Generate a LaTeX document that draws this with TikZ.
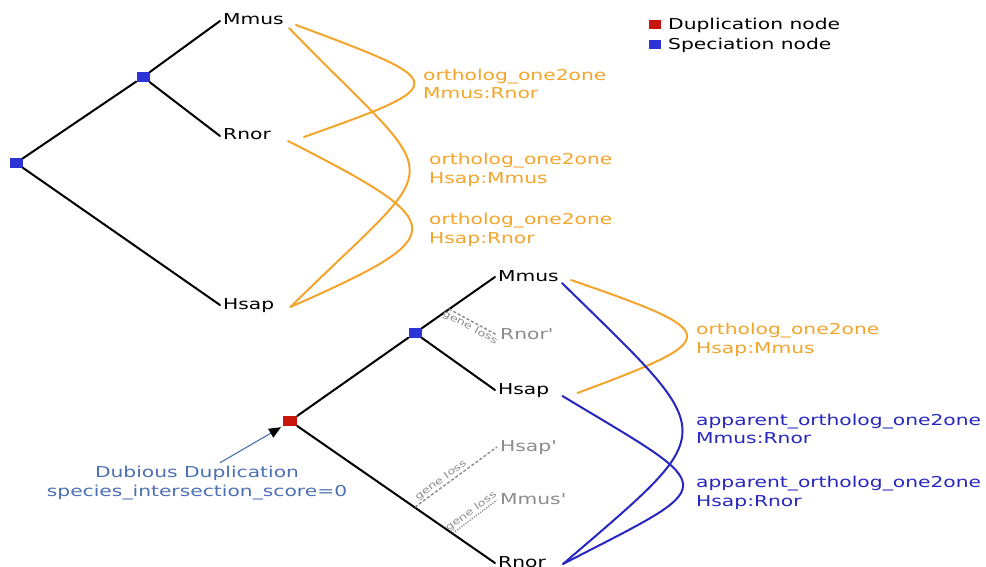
\documentclass[tikz,border=0pt]{standalone}
\usepackage{fontspec}
\setmainfont{DejaVu Sans}[FakeStretch=1.35]
\usetikzlibrary{arrows.meta}
\definecolor{orthoorange}{RGB}{243,164,42}
\definecolor{apparentblue}{RGB}{38,38,192}
\definecolor{specblue}{RGB}{44,52,212}
\definecolor{dupred}{RGB}{200,22,12}
\definecolor{dubiousblue}{RGB}{76,112,180}
\definecolor{lossgray}{RGB}{140,140,140}
\begin{document}
\begin{tikzpicture}[x=1pt, y=-1pt, font=\fontsize{15}{18.5}\selectfont, line join=round, line cap=round, >=stealth,
	branch/.style={line width=2pt, black},
	spec/.style={fill=specblue, minimum width=13pt, minimum height=10pt, inner sep=0pt},
	dup/.style={fill=dupred, minimum width=14pt, minimum height=10pt, inner sep=0pt},
	leaf/.style={anchor=west, inner sep=3pt, text height=11pt, text depth=3pt},
	lost/.style={leaf, text=lossgray},
	ortho/.style={line width=2pt, orthoorange},
	apparent/.style={line width=2pt, apparentblue},
	rel/.style={anchor=west, align=left, inner sep=0pt},
	lossline/.style={lossgray, line width=1.4pt, line cap=butt, dash pattern=on 3pt off 2pt},
	losstext/.style={font=\fontsize{9.5}{11}\selectfont, text=lossgray, sloped, inner sep=1pt}]
	\useasboundingbox (0,0) rectangle (986,567);
	% species tree
	\node[spec] (r0) at (16,163) {};
	\node[spec] (s1) at (143,77) {};
	\node[leaf] (mmusA) at (220,21) {Mmus};
	\node[leaf] (rnorA) at (220,136) {Rnor};
	\node[leaf] (hsapA) at (220,305) {Hsap};
	\draw[branch] (r0) -- (s1) -- (mmusA.west) (s1) -- (rnorA.west) (r0) -- (hsapA.west);
	\draw[ortho] ([shift={(9,4)}]mmusA.east) .. controls +(156,58) and +(149,-53) .. ([shift={(30,1)}]rnorA.east);
	\draw[ortho] ([shift={(2,7)}]mmusA.east) .. controls +(160,165) and +(160,-158) .. ([shift={(13,2)}]hsapA.east);
	\draw[ortho] ([shift={(14,5)}]rnorA.east) .. controls +(165,84) and +(163,-72) .. ([shift={(13,2)}]hsapA.east);
	\node[rel, text=orthoorange] (lab1) at (423,84) {ortholog\_one2one\\Mmus:Rnor};
	\node[rel, text=orthoorange] (lab2) at (429,170) {ortholog\_one2one\\Hsap:Mmus};
	\node[rel, text=orthoorange] (lab3) at (429,230) {ortholog\_one2one\\Hsap:Rnor};
	% legend
	\foreach \col/\txt/\y in {dupred/Duplication node/25, specblue/Speciation node/45}{
		\node[fill=\col, minimum width=12pt, minimum height=9pt, inner sep=0pt] (key\y) at (655,\y) {};
		\node[anchor=west, inner sep=0pt] (legend\y) at (668,\y) {\txt};
	}
	% gene tree
	\node[dup] (d1) at (290,421) {};
	\node[spec] (s2) at (415,333) {};
	\node[leaf] (mmusB) at (495,277) {Mmus};
	\node[leaf] (hsapB) at (495,390) {Hsap};
	\node[leaf] (rnorB) at (495,563) {Rnor};
	\node[lost] (rnorP) at (497,335) {Rnor\textquotesingle};
	\node[lost] (hsapP) at (497,447) {Hsap\textquotesingle};
	\node[lost] (mmusP) at (497,500) {Mmus\textquotesingle};
	\draw[branch] (d1) -- (s2) -- (mmusB.west) (s2) -- (hsapB.west) (d1) -- (rnorB.west);
	\coordinate (gl1) at (449,309);
	\coordinate (gl2) at (415,507);
	\coordinate (gl3) at (453,533);
	\draw[lossline] (gl1) -- (rnorP.west) node[losstext, midway, below] {gene loss};
	\draw[lossline] (gl2) -- (hsapP.west) node[losstext, pos=0.36, above] {gene loss};
	\draw[lossline, dash pattern=on 1.2pt off 1.4pt] (gl3) -- (mmusP.west) node[losstext, midway, above] {gene loss};
	\draw[ortho] ([shift={(9,3)}]mmusB.east) .. controls +(153,53) and +(148,-55) .. ([shift={(25,3)}]hsapB.east);
	\draw[apparent] ([shift={(0,6)}]mmusB.east) .. controls +(160,157) and +(160,-138) .. ([shift={(14,1)}]rnorB.east);
	\draw[apparent] ([shift={(10,6)}]hsapB.east) .. controls +(161,97) and +(160,-83) .. ([shift={(14,1)}]rnorB.east);
	\node[rel, text=orthoorange] (lab4) at (696,340) {ortholog\_one2one\\Hsap:Mmus};
	\node[rel, text=apparentblue] (lab5) at (696,429) {apparent\_ortholog\_one2one\\Mmus:Rnor};
	\node[rel, text=apparentblue] (lab6) at (696,493) {apparent\_ortholog\_one2one\\Hsap:Rnor};
	% annotation
	\node[text=dubiousblue, align=center] (dubious) at (197,483) {Dubious Duplication\\species\_intersection\_score=0};
	\draw[dubiousblue, line width=1.1pt, -{Triangle[color=black, length=12pt, width=10pt]}, shorten >=2pt] ([xshift=23pt]dubious.north) -- (d1.south west);
\end{tikzpicture}
\end{document}
